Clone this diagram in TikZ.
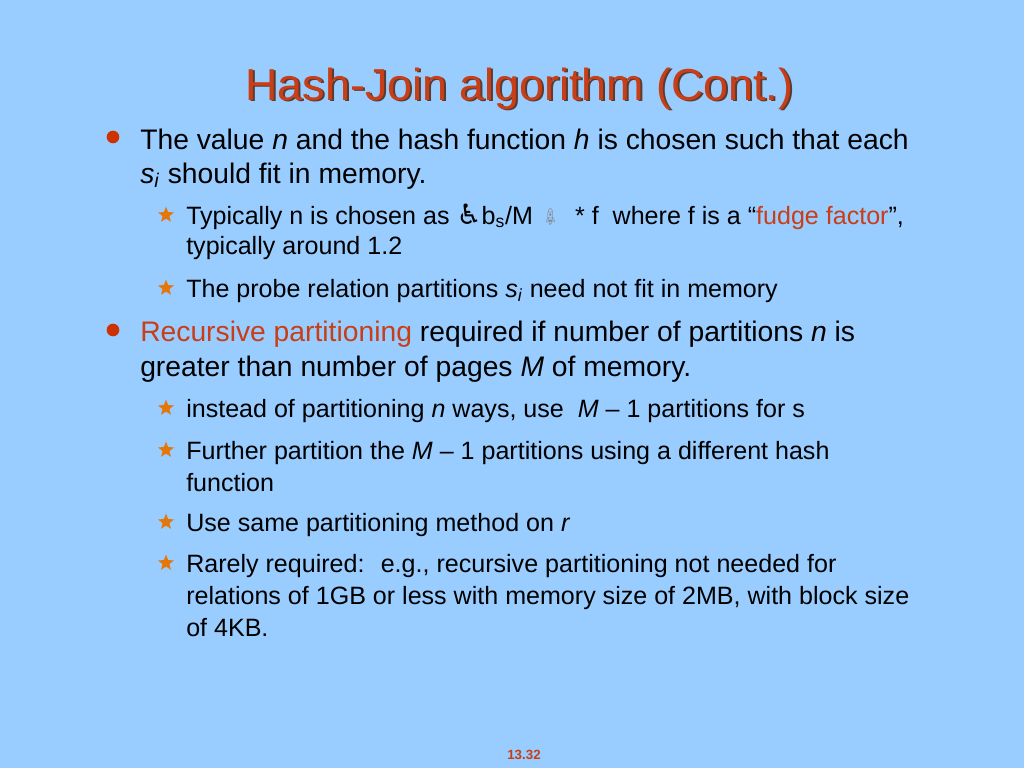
\documentclass[tikz,border=0pt]{standalone}
\usepackage{graphicx}
\usepackage{fontspec}
\setmainfont{Liberation Sans}
\newfontfamily\symfont{DejaVu Sans}
\newfontfamily\emojifont{Noto Emoji}
\usetikzlibrary{shapes.geometric}
\definecolor{slidebg}{RGB}{153,204,255}
\definecolor{titlered}{RGB}{200,62,22}
\definecolor{shadowgray}{RGB}{90,60,50}
\definecolor{dotred}{RGB}{204,51,0}
\definecolor{starorange}{RGB}{228,118,12}
\tikzset{
  maintxt/.style={anchor=base west,inner sep=0,font=\fontsize{21.2}{24}\selectfont},
  subtxt/.style={anchor=base west,inner sep=0,font=\fontsize{18.8}{20}\selectfont},
  dot/.style={fill=dotred,circle,minimum size=9.5pt,inner sep=0},
  staricon/.style={fill=starorange,star,star points=5,star point ratio=2.3,minimum size=12.5pt,inner sep=0}
}
\newcommand{\sub}[1]{\textit{s}\textsubscript{\textit{#1}}}
\begin{document}
\begin{tikzpicture}[x=0.75pt,y=-0.75pt]
\fill[slidebg] (0,0) rectangle (1024,768);
\useasboundingbox (0,0) rectangle (1024,768);
\node[anchor=base,inner sep=0,font=\fontsize{33.6}{36}\selectfont,text=shadowgray] (tsh) at (521.5,101.5) {Hash-Join algorithm (Cont.)};
\node[anchor=base,inner sep=0,font=\fontsize{33.6}{36}\selectfont,text=titlered] (t) at (519.5,100) {Hash-Join algorithm (Cont.)};

\node[dot] (d1) at (113,137) {};
\node[maintxt] (b1) at (140,149) {The value \textit{n} and the hash function \textit{h} is chosen such that each};
\node[maintxt] (b1l) at (140,183) {\sub{i} should fit in memory.};
\node[staricon] (s1) at (166,215) {};
\node[subtxt] (b1a) at (186,224) {Typically n is chosen as {\symfont\fontsize{21}{21}\selectfont ♿}b\textsubscript{s}/M \raisebox{-2pt}{\rotatebox{45}{\emojifont\fontsize{10}{10}\selectfont\color{gray}🚀}} \ * f \ where f is a “\textcolor{titlered}{fudge factor}”,};
\node[subtxt] (b1al) at (186,254) {typically around 1.2};
\node[staricon] (s2) at (166,288) {};
\node[subtxt] (b1b) at (186,297) {The probe relation partitions \sub{i} need not fit in memory};

\node[dot] (d2) at (113,330) {};
\node[maintxt] (b2) at (140,341) {\textcolor{titlered}{Recursive partitioning} required if number of partitions \textit{n} is};
\node[maintxt] (b2l) at (140,376) {greater than number of pages \textit{M} of memory.};
\node[staricon] (s3) at (166,408) {};
\node[subtxt] (b2a) at (186,417) {instead of partitioning \textit{n} ways, use \ \textit{M} – 1 partitions for s};
\node[staricon] (s4) at (166,450) {};
\node[subtxt] (b2b) at (186,459) {Further partition the \textit{M} – 1 partitions using a different hash};
\node[subtxt] (b2bl) at (186,491) {function};
\node[staricon] (s5) at (166,522) {};
\node[subtxt] (b2c) at (186,531) {Use same partitioning method on \textit{r}};
\node[staricon] (s6) at (166,563) {};
\node[subtxt] (b2d) at (186,572) {Rarely required: \ e.g., recursive partitioning not needed for};
\node[subtxt] (b2dl) at (186,604) {relations of 1GB or less with memory size of 2MB, with block size};
\node[subtxt] (b2dm) at (186,636) {of 4KB.};

\node[anchor=base,inner sep=0,font=\bfseries\fontsize{10}{11}\selectfont,text=titlered] (pg) at (524,759) {13.32};
\end{tikzpicture}
\end{document}
